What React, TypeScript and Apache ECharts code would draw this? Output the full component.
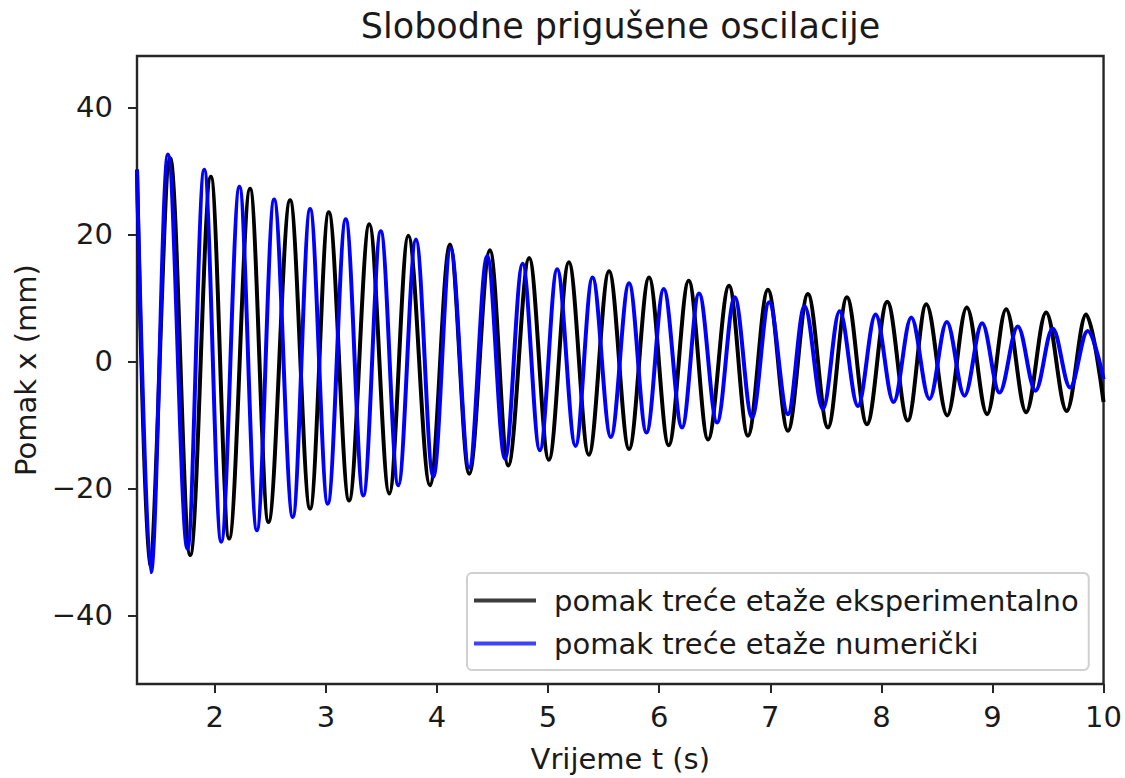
import React, { useEffect, useRef } from "react";
import * as echarts from "echarts";

// Chart texts
const TITLE = "Slobodne prigušene oscilacije";
const X_NAME = "Vrijeme t (s)";
const Y_NAME = "Pomak x (mm)";
const SERIES_EXP = "pomak treće etaže eksperimentalno";
const SERIES_NUM = "pomak treće etaže numerički";

// Axis ticks
const X_TICKS = [2, 3, 4, 5, 6, 7, 8, 9, 10];
const Y_TICKS = [-40, -20, 0, 20, 40];
const X_MIN = 1.3;
const X_MAX = 10;
const Y_MIN = -50.8;
const Y_MAX = 48.1;

const expTime = [
  1.3, 1.41, 1.599, 1.779, 1.965, 2.129, 2.318, 2.483, 2.678, 2.858, 3.026,
  3.209, 3.391, 3.571, 3.742, 3.937, 4.117, 4.29, 4.477, 4.641, 4.83, 5.007,
  5.187, 5.367, 5.549, 5.729, 5.909, 6.086, 6.266, 6.44, 6.629, 6.799, 6.979,
  7.159, 7.339, 7.519, 7.69, 7.87, 8.053, 8.238, 8.404, 8.593, 8.769, 8.952,
  9.123, 9.303, 9.483, 9.668, 9.843, 10.0,
];
const expDisp = [
  30.2, -32.0, 32.0, -30.5, 29.1, -27.9, 27.2, -25.3, 25.4, -23.2, 23.5,
  -21.9, 21.6, -20.8, 19.8, -19.5, 18.4, -17.7, 17.5, -16.4, 16.3, -15.5,
  15.6, -14.7, 14.2, -13.8, 13.2, -13.2, 12.7, -12.3, 11.9, -11.7, 11.3,
  -10.9, 10.6, -10.4, 10.1, -9.9, 9.4, -9.3, 9.0, -8.5, 8.5, -8.3,
  8.2, -8.0, 7.7, -7.8, 7.4, -6.4,
];

// Numerical series
const numTime = [
  1.3, 1.425, 1.578, 1.754, 1.905, 2.058, 2.222, 2.379, 2.534, 2.702, 2.858,
  3.017, 3.179, 3.337, 3.494, 3.652, 3.811, 3.967, 4.123, 4.29, 4.452, 4.612,
  4.771, 4.926, 5.082, 5.247, 5.4, 5.565, 5.729, 5.886, 6.041, 6.206, 6.359,
  6.521, 6.68, 6.836, 6.99, 7.159, 7.309, 7.474, 7.624, 7.789, 7.948, 8.11,
  8.269, 8.433, 8.589, 8.748, 8.907, 9.063, 9.228, 9.387, 9.542, 9.699, 9.857,
  10.0,
];
const numDisp = [
  30.2, -33.2, 32.6, -29.5, 30.2, -28.4, 27.5, -26.6, 25.5, -24.5, 24.0,
  -22.4, 22.4, -21.1, 20.5, -19.5, 19.2, -18.2, 17.8, -16.7, 16.6, -15.3,
  15.4, -14.0, 14.5, -13.3, 13.2, -11.9, 12.3, -11.2, 11.4, -10.4, 10.7,
  -9.6, 10.1, -8.8, 9.3, -8.3, 8.7, -7.5, 7.9, -7.0, 7.4, -6.4,
  6.9, -5.9, 6.2, -5.4, 6.0, -4.9, 5.5, -4.6, 5.2, -4.1, 4.8,
  -2.8,
];

const FONT = "'DejaVu Sans', 'Noto Sans', sans-serif";
const TEXT_COLOR = "#1a1a1a";
const AXIS_COLOR = "#262626";

const fmtTick = (v: number) => (v < 0 ? "\u2212" + Math.abs(v) : String(v));

export default function App() {
  const ref = useRef<HTMLDivElement>(null);

  useEffect(() => {
    if (!ref.current) return;
    const chart = echarts.init(ref.current, undefined, { renderer: "svg" });
    const expData = expTime.map((t, i) => [t, expDisp[i]]);
    const numData = numTime.map((t, i) => [t, numDisp[i]]);

    chart.setOption({
      animation: false,
      backgroundColor: "#ffffff",
      textStyle: { fontFamily: FONT },
      grid: {
        left: 137,
        top: 56,
        right: 21,
        bottom: 92.3,
        show: true,
        borderColor: AXIS_COLOR,
        borderWidth: 2.4,
        backgroundColor: "transparent",
      },
      graphic: [
        {
          type: "text",
          x: 620.5,
          y: 25.5,
          style: {
            text: TITLE,
            fontFamily: FONT,
            fontSize: 35,
            fill: TEXT_COLOR,
            align: "center",
            verticalAlign: "middle",
          },
        },
      ],
      legend: {
        orient: "vertical",
        left: 467,
        top: 573,
        padding: [13, 10, 12, 7],
        itemWidth: 62,
        itemHeight: 4,
        itemGap: 14,
        icon: "rect",
        backgroundColor: "#ffffff",
        borderColor: "#d0d0d0",
        borderWidth: 2,
        borderRadius: 5,
        textStyle: {
          fontFamily: FONT,
          fontSize: 29,
          color: TEXT_COLOR,
          padding: [0, 0, 0, 13],
        },
        data: [
          { name: SERIES_EXP, itemStyle: { color: "#3c3c3c" } },
          { name: SERIES_NUM, itemStyle: { color: "#4040ff" } },
        ],
      },
      xAxis: {
        type: "value",
        min: X_MIN,
        max: X_MAX,
        name: X_NAME,
        nameLocation: "middle",
        nameGap: 60,
        nameTextStyle: { fontFamily: FONT, fontSize: 29, color: TEXT_COLOR },
        axisLine: { show: false, onZero: false },
        splitLine: { show: false },
        axisTick: {
          show: true,
          length: 9,
          customValues: X_TICKS,
          lineStyle: { color: AXIS_COLOR, width: 2 },
        },
        axisLabel: {
          customValues: X_TICKS,
          margin: 18,
          fontFamily: FONT,
          fontSize: 29,
          color: TEXT_COLOR,
          formatter: (v: number) => fmtTick(v),
        },
      },
      yAxis: {
        type: "value",
        min: Y_MIN,
        max: Y_MAX,
        name: Y_NAME,
        nameLocation: "middle",
        nameGap: 94,
        nameTextStyle: { fontFamily: FONT, fontSize: 29, color: TEXT_COLOR },
        axisLine: { show: false, onZero: false },
        splitLine: { show: false },
        axisTick: {
          show: true,
          length: 9,
          customValues: Y_TICKS,
          lineStyle: { color: AXIS_COLOR, width: 2 },
        },
        axisLabel: {
          customValues: Y_TICKS,
          margin: 24,
          fontFamily: FONT,
          fontSize: 29,
          color: TEXT_COLOR,
          formatter: (v: number) => fmtTick(v),
        },
      },
      series: [
        {
          name: SERIES_EXP,
          type: "line",
          data: expData,
          symbol: "none",
          showSymbol: false,
          smooth: 0.35,
          smoothMonotone: "x",
          clip: true,
          lineStyle: { color: "#000000", width: 4 },
          itemStyle: { color: "#000000" },
          z: 2,
        },
        {
          name: SERIES_NUM,
          type: "line",
          data: numData,
          symbol: "none",
          showSymbol: false,
          smooth: 0.35,
          smoothMonotone: "x",
          clip: true,
          lineStyle: { color: "#0000ff", width: 4 },
          itemStyle: { color: "#0000ff" },
          z: 3,
        },
      ],
    });

    return () => {
      chart.dispose();
    };
  }, []);

  return (
    <div
      ref={ref}
      style={{
        position: "absolute",
        left: 0,
        top: 0,
        width: 1125,
        height: 778,
        background: "#ffffff",
      }}
    />
  );
}
